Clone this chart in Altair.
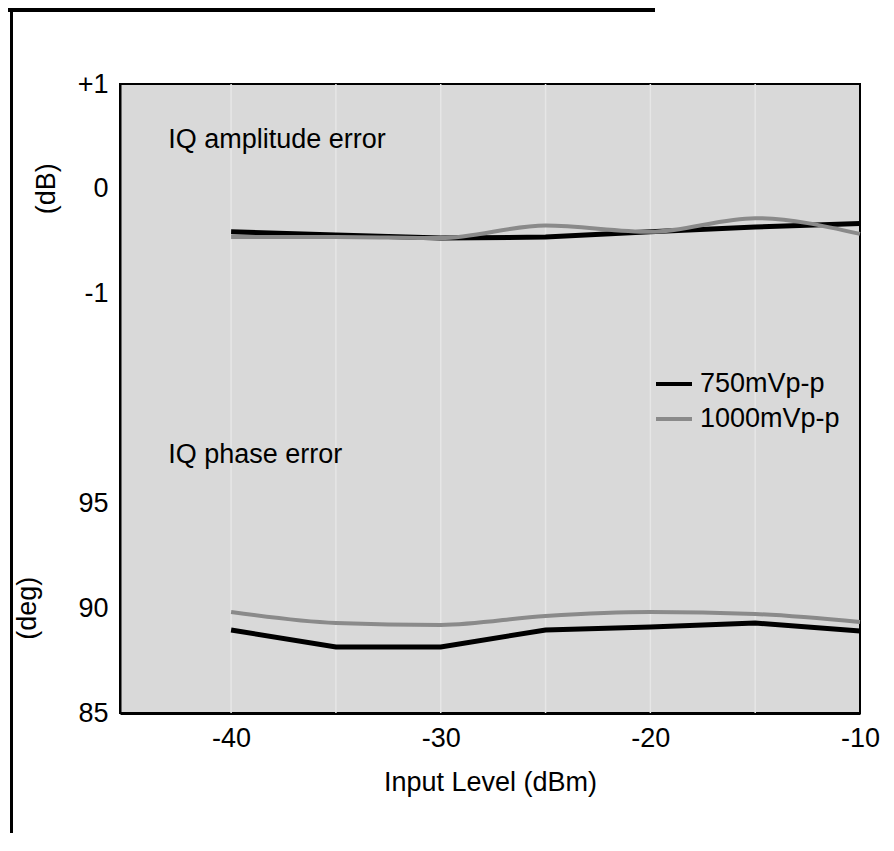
import altair as alt
import pandas as pd

# ---- data ----
levels = [-40, -35, -30, -25, -20, -15, -10]
amp_750 = [-0.41, -0.44, -0.47, -0.46, -0.41, -0.365, -0.33]
amp_1000 = [-0.46, -0.46, -0.47, -0.35, -0.41, -0.28, -0.43]
phase_750 = [88.96, 88.15, 88.15, 88.96, 89.1, 89.29, 88.91]
phase_1000 = [89.82, 89.29, 89.2, 89.63, 89.82, 89.72, 89.34]
series_names = ["750mVp-p", "1000mVp-p"]
x_ticks = [-40, -30, -20, -10]
y_positions = [0, 1, 2, 4, 5, 6]
y_labels = ["85", "90", "95", "-1", "0", "+1"]

rows = []
for lv, a7, a10, p7, p10 in zip(levels, amp_750, amp_1000, phase_750, phase_1000):
    rows.append({"level": lv, "value": a7, "series": series_names[0], "kind": "amp"})
    rows.append({"level": lv, "value": a10, "series": series_names[1], "kind": "amp"})
    rows.append({"level": lv, "value": p7, "series": series_names[0], "kind": "phase"})
    rows.append({"level": lv, "value": p10, "series": series_names[1], "kind": "phase"})
df = pd.DataFrame(rows)

label_map = "{" + ",".join(f"'{p}':'{l}'" for p, l in zip(y_positions, y_labels)) + "}"
FONT = "Liberation Sans"
FS = 27

x_enc = alt.X(
    "level:Q",
    scale=alt.Scale(domain=[-45.3, -10], nice=False, zero=False),
    axis=alt.Axis(
        values=x_ticks, title="Input Level (dBm)", ticks=False, labelPadding=12,
        labelFontSize=FS, titleFontSize=FS, titleFontWeight="normal", titlePadding=18,
        labelFont=FONT, titleFont=FONT, labelColor="black", titleColor="black",
        labelExpr="toString(datum.value)",
        domainColor="black", domainWidth=3, grid=False, labelFlush=False,
    ),
)
y_enc = alt.Y(
    "u:Q",
    scale=alt.Scale(domain=[0, 6], nice=False, zero=False),
    axis=alt.Axis(
        values=y_positions, title=None, ticks=False, labelPadding=12,
        labelFontSize=FS, labelFont=FONT, labelColor="black",
        labelExpr=f"{label_map}[datum.value]", domainColor="black", domainWidth=2,
        grid=False,
    ),
)

base = alt.Chart(df).transform_calculate(
    u="datum.kind == 'amp' ? 5 + datum.value : (datum.value - 85) / 5",
    grp="datum.kind + datum.series",
)

color_enc = alt.Color(
    "series:N",
    scale=alt.Scale(domain=series_names, range=["#000000", "#8a8a8a"]),
    legend=alt.Legend(
        title=None, orient="none", legendX=534, legendY=280, symbolType="stroke",
        symbolSize=1296, symbolStrokeWidth=4, labelFontSize=FS, labelFont=FONT,
        labelColor="black", labelOffset=6, rowPadding=2, padding=0,
    ),
)

# vertical grid lines every 5 dBm
grid_vals = pd.DataFrame({"g": [-40, -35, -30, -25, -20, -15]})
grid = alt.Chart(grid_vals).mark_rule(color="#e6e6e6", strokeWidth=1.5).encode(
    x=alt.X("g:Q", scale=alt.Scale(domain=[-45.3, -10], nice=False, zero=False))
)

line_750 = base.transform_filter(f"datum.series == '{series_names[0]}'").mark_line(
    strokeWidth=5, interpolate="linear"
).encode(x=x_enc, y=y_enc, color=color_enc, detail="grp:N")

line_1000 = base.transform_filter(f"datum.series == '{series_names[1]}'").mark_line(
    strokeWidth=4, interpolate="monotone"
).encode(x=x_enc, y=y_enc, color=color_enc, detail="grp:N")

notes = pd.DataFrame({
    "level": [-43.0, -43.0],
    "u": [5.39, 2.385],
    "text": ["IQ amplitude error", "IQ phase error"],
})
note_layer = alt.Chart(notes).mark_text(
    align="left", baseline="alphabetic", fontSize=FS, font=FONT, color="black"
).encode(x="level:Q", y="u:Q", text="text:N")

titles = pd.DataFrame({"u": [5, 1], "text": ["(dB)", "(deg)"], "px": [-73, -92]})
title_layer = alt.Chart(titles).mark_text(
    angle=270, align="center", baseline="middle", fontSize=FS, font=FONT, color="black"
).encode(x=alt.X("px:Q", scale=None), y="u:Q", text="text:N")

# page decorations: black bar at top and vertical rule at left
bar = alt.Chart(pd.DataFrame({"k": [0]})).mark_rect(color="black").encode(
    x=alt.value(-120), x2=alt.value(535), y=alt.value(-90), y2=alt.value(-72)
)
vline = alt.Chart(pd.DataFrame({"k": [0]})).mark_rule(color="black", strokeWidth=3).encode(
    x=alt.value(-108.5), y=alt.value(-80), y2=alt.value(800)
)

chart = alt.layer(grid, line_750, line_1000, note_layer, title_layer, bar, vline).properties(
    width=740, height=629,
    background="white",
    padding={"left": 112, "top": 76, "right": 26, "bottom": 120},
    autosize=alt.AutoSizeParams(type="none"),
).configure_view(
    fill="#d9d9d9", stroke="black", strokeWidth=2
)

chart.save("out.html", embed_options={"renderer": "svg", "actions": False})
